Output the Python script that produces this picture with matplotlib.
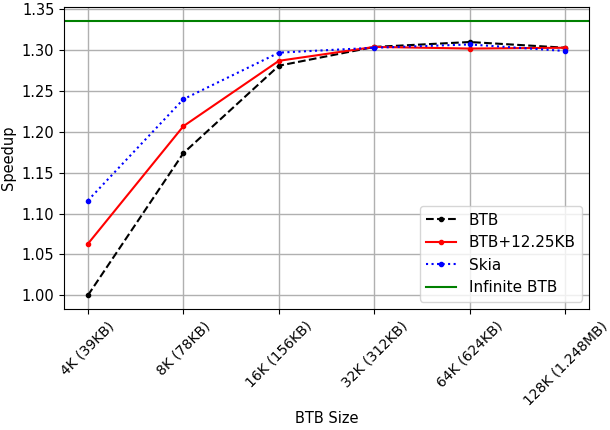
import matplotlib
matplotlib.use('Agg')
import matplotlib.pyplot as plt
import numpy as np

# BTB sizes and measured speedups
sizes = ['4K (39KB)', '8K (78KB)', '16K (156KB)', '32K (312KB)',
         '64K (624KB)', '128K (1.248MB)']
btb = [1.000, 1.174, 1.281, 1.304, 1.310, 1.303]
btb_ext = [1.063, 1.207, 1.287, 1.304, 1.302, 1.303]
skia = [1.116, 1.240, 1.297, 1.303, 1.307, 1.299]
infinite_btb = 1.336

plt.rcParams['font.size'] = 10.5

fig, ax = plt.subplots(1, 1, figsize=(6.1, 4.3), dpi=100)
x = np.arange(len(sizes))

ax.plot(x, btb, 'k--', marker='.', markersize=6, linewidth=1.5, label='BTB')
ax.plot(x, btb_ext, 'r-', marker='.', markersize=6, linewidth=1.5,
        label='BTB+12.25KB')
ax.plot(x, skia, 'b:', marker='.', markersize=6, linewidth=1.5, label='Skia')
ax.axhline(infinite_btb, color='green', linewidth=1.5, label='Infinite BTB')

# keep autoscale consistent with the infinite line included
ax.set_ylim(0.983, 1.353)
ax.set_xticks(x)
ax.set_xticklabels(sizes, rotation=45, fontsize=10)
ax.set_yticks(np.arange(1.0, 1.351, 0.05))
ax.set_xlabel('BTB Size', labelpad=2)
ax.set_ylabel('Speedup')
ax.grid(True, color='#b0b0b0', linewidth=1)
ax.legend(loc='lower right', fontsize=11)

fig.subplots_adjust(left=0.105, right=0.966, top=0.984, bottom=0.281)
plt.savefig('out.png')
